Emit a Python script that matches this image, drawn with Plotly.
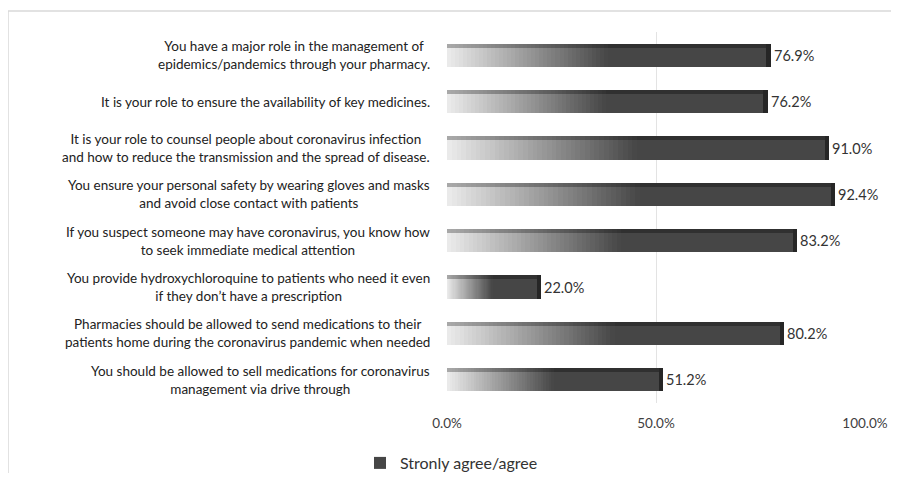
import plotly.graph_objects as go

categories = [
    "You have a major role in the management of<br>epidemics/pandemics through your pharmacy.",
    "It is your role to ensure the availability of key medicines.",
    "It is your role to counsel people about coronavirus infection<br>and how to reduce the transmission and the spread of disease.",
    "You ensure your personal safety by wearing gloves and masks<br>and avoid close contact with patients",
    "If you suspect someone may have coronavirus, you know how<br>to seek immediate medical attention",
    "You provide hydroxychloroquine to patients who need it even<br>if they don\u2019t have a prescription",
    "Pharmacies should be allowed to send medications to their<br>patients home during the coronavirus pandemic when needed",
    "You should be allowed to sell medications for coronavirus<br>management via drive through",
]
values = [76.9, 76.2, 91.0, 92.4, 83.2, 22.0, 80.2, 51.2]
series_name = "Stronly agree/agree"
tick_values = [0, 50, 100]
tick_labels = ["0.0%", "50.0%", "100.0%"]

FONT = "Lato"
idx = list(range(len(categories)))

# page body margin offset (screen px = figure px + 8)
OX, OY = 8, 8
W, H = 899 - OX, 481 - 2 * OY
L, T = 447 - OX, 32 - OY
pw, ph = 418, 371
R = W - L - pw
B = H - T - ph

def sx(px):  # screen px -> paper x
    return (px - OX - L) / pw

def sy(py):  # screen px -> paper y
    return (T + ph - (py - OY)) / ph

def rgb(c):
    return "rgb(%d,%d,%d)" % c

fig = go.Figure()

BW = 0.5        # bar thickness (category units)
TOPW = 0.085    # top bevel thickness
SHADE = 0.72    # top bevel darkness factor

# gradient part: first half of each bar split into shaded segments
N = 40
c0 = (234, 234, 234)
c1 = (72, 72, 72)
for k in range(N):
    t = k / (N - 1)
    col = tuple(round(c0[j] + (c1[j] - c0[j]) * t) for j in range(3))
    top = tuple(round(v * SHADE) for v in col)
    seg = [v / (2 * N) for v in values]
    base = [v * k / (2 * N) for v in values]
    fig.add_trace(go.Bar(
        y=idx, x=seg, base=base, orientation="h", width=BW,
        marker=dict(color=rgb(col), line=dict(width=0)),
        showlegend=False, hoverinfo="skip",
    ))
    fig.add_trace(go.Bar(
        y=idx, x=seg, base=base, orientation="h", width=TOPW, offset=-BW / 2,
        marker=dict(color=rgb(top), line=dict(width=0)),
        showlegend=False, hoverinfo="skip",
    ))

# solid dark part
fig.add_trace(go.Bar(
    y=idx, x=[v / 2 for v in values], base=[v / 2 for v in values],
    orientation="h", width=BW, name=series_name,
    marker=dict(color="#464646", line=dict(width=0)),
    showlegend=True, hoverinfo="skip",
))
fig.add_trace(go.Bar(
    y=idx, x=[v / 2 for v in values], base=[v / 2 for v in values],
    orientation="h", width=TOPW, offset=-BW / 2,
    marker=dict(color="#303030", line=dict(width=0)),
    showlegend=False, hoverinfo="skip",
))
# right end cap (3D side) carrying the value labels
fig.add_trace(go.Bar(
    y=idx, x=[1.0] * len(values), base=[v - 0.5 for v in values],
    orientation="h", width=BW,
    marker=dict(color="#262626", line=dict(width=0)),
    text=["%.1f%%" % v for v in values], textposition="outside",
    textfont=dict(family=FONT, size=14.5, color="#333333"),
    cliponaxis=False, showlegend=False, hoverinfo="skip",
))

# category labels (centered lines, right-aligned block)
for i, c in enumerate(categories):
    fig.add_annotation(
        xref="paper", yref="y", x=0, y=i, xshift=-15,
        xanchor="right", yanchor="middle", align="center",
        text=c, showarrow=False,
        font=dict(family=FONT, size=13.5, color="#222222"),
    )

# outer frame (left and top edges visible in the picture)
frame = dict(color="#d9d9d9", width=1.5)
fig.add_shape(type="line", xref="paper", yref="paper",
              x0=sx(8), x1=sx(8), y0=sy(481), y1=sy(11), line=frame, layer="below")
fig.add_shape(type="line", xref="paper", yref="paper",
              x0=sx(8), x1=sx(899), y0=sy(11), y1=sy(11), line=frame, layer="below")

fig.update_layout(
    width=W, height=H,
    margin=dict(l=L, r=R, t=T, b=B, autoexpand=False),
    paper_bgcolor="white", plot_bgcolor="white",
    barmode="overlay", bargap=0,
    font=dict(family=FONT, color="#404040"),
    xaxis=dict(range=[0, 100], tickvals=tick_values, ticktext=tick_labels,
               showgrid=True, gridcolor="#e3e3e3", gridwidth=1,
               zeroline=False, showline=False, ticks="",
               tickfont=dict(family=FONT, size=13.5, color="#404040"),
               ticklabelstandoff=10),
    yaxis=dict(range=[len(categories) - 0.5, -0.5], showticklabels=False,
               showgrid=False, zeroline=False, showline=False, ticks=""),
    legend=dict(orientation="h", x=sx(360), xanchor="left",
                y=sy(463), yanchor="middle",
                font=dict(family=FONT, size=16, color="#333333"),
                itemwidth=30),
)

fig.write_html("out.html", config={"displayModeBar": False})
